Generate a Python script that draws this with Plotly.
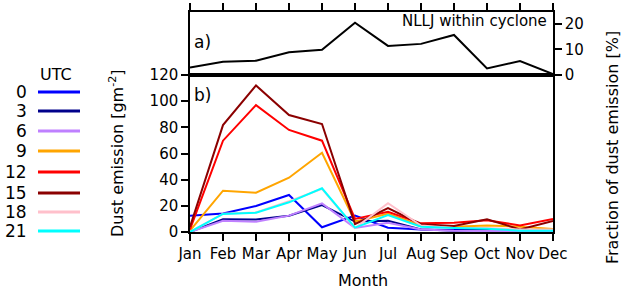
import plotly.graph_objects as go

months = ["Jan", "Feb", "Mar", "Apr", "May", "Jun", "Jul", "Aug", "Sep", "Oct", "Nov", "Dec"]
utc_labels = ["0", "3", "6", "9", "12", "15", "18", "21"]
utc_colors = ["#0000ff", "#00008b", "#bf80ff", "#ffa500", "#ff0000", "#8b0000", "#ffc0cb", "#00ffff"]

utc0 = [12.5, 14.2, 19.9, 28.3, 3.6, 12.5, 3.3, 2.0, 1.5, 1.5, 1.0, 1.0]
utc3 = [0.0, 9.7, 9.5, 12.5, 20.6, 8.0, 8.6, 2.0, 1.0, 2.0, 0.5, 0.5]
utc6 = [0.0, 8.6, 7.9, 12.5, 21.9, 3.0, 7.0, 2.0, 1.0, 1.0, 0.5, 0.5]
utc9 = [1.0, 31.6, 30.0, 41.5, 60.6, 8.0, 14.0, 5.0, 4.0, 5.0, 4.0, 2.3]
utc12 = [2.0, 69.8, 97.0, 78.0, 69.8, 10.0, 15.5, 6.6, 7.0, 9.0, 5.0, 10.0]
utc15 = [4.0, 81.7, 112.0, 89.4, 82.5, 6.0, 18.3, 6.0, 4.6, 9.7, 2.0, 8.4]
utc18 = [0.0, 14.0, 15.0, 23.5, 33.0, 3.0, 22.0, 5.0, 3.0, 3.0, 2.0, 2.0]
utc21 = [0.0, 13.8, 14.8, 22.7, 33.4, 3.3, 13.0, 4.0, 3.0, 2.5, 1.0, 1.0]
series = [utc0, utc3, utc6, utc9, utc12, utc15, utc18, utc21]

nllj_fraction = [2.9, 5.2, 5.6, 8.9, 9.9, 20.5, 11.4, 12.2, 15.7, 2.6, 5.5, 0.4]

W, H = 623, 293
L, R, T, B = 190, 553, 12, 232
MID = 75

def px(x):
    return (x - L) / (R - L)
def py(y):
    return (B - y) / (B - T)

FONT = "DejaVu Sans"
fig = go.Figure()

for lab, col, vals in zip(utc_labels, utc_colors, series):
    fig.add_trace(go.Scatter(x=list(range(12)), y=vals, mode="lines", line=dict(color=col, width=2),
                             showlegend=False, xaxis="x", yaxis="y", name=lab))

fig.add_trace(go.Scatter(x=list(range(12)), y=nllj_fraction, mode="lines", line=dict(color="black", width=2),
                         showlegend=False, xaxis="x2", yaxis="y2"))

axis_common = dict(showline=True, linecolor="black", linewidth=1.5, mirror=True,
                   ticks="outside", ticklen=7, tickwidth=1.5, tickcolor="black",
                   showgrid=False, zeroline=False, automargin=False,
                   tickfont=dict(family=FONT, size=15, color="black"))

split = (B - MID) / (B - T)

fig.update_layout(
    width=W, height=H,
    margin=dict(l=L, r=W - R, t=T, b=H - B, pad=0),
    paper_bgcolor="white", plot_bgcolor="white",
    font=dict(family=FONT, size=15, color="black"),
    xaxis=dict(domain=[0, 1], anchor="y", range=[0, 11], tickvals=list(range(12)), ticktext=months,
               **axis_common),
    yaxis=dict(domain=[0, split], anchor="x", range=[0, 120], dtick=20, **axis_common),
    xaxis2=dict(domain=[0, 1], anchor="y2", range=[0, 11], side="top", showticklabels=False,
                tickvals=list(range(12)), **axis_common),
    yaxis2=dict(domain=[split, 1], anchor="x2", range=[0, 24.7], side="right",
                tickvals=[0, 10, 20], **axis_common),
)

ann = []
ann.append(dict(x=px(549), y=py(21), xref="paper", yref="paper", text="NLLJ within cyclone",
                showarrow=False, xanchor="right", yanchor="middle", font=dict(family=FONT, size=15)))
ann.append(dict(x=px(192), y=py(42), xref="paper", yref="paper", text="a)",
                showarrow=False, xanchor="left", yanchor="middle", font=dict(family=FONT, size=17)))
ann.append(dict(x=px(192), y=py(95), xref="paper", yref="paper", text="b)",
                showarrow=False, xanchor="left", yanchor="middle", font=dict(family=FONT, size=17)))
ann.append(dict(x=px(116), y=py(153), xref="paper", yref="paper", text="Dust emission [gm<sup>-2</sup>]",
                showarrow=False, textangle=-90, xanchor="center", yanchor="middle", font=dict(family=FONT, size=16)))
ann.append(dict(x=px(612), y=py(148), xref="paper", yref="paper", text="Fraction of dust emission [%]",
                showarrow=False, textangle=-90, xanchor="center", yanchor="middle", font=dict(family=FONT, size=16)))
ann.append(dict(x=px(363), y=py(280), xref="paper", yref="paper", text="Month",
                showarrow=False, xanchor="center", yanchor="middle", font=dict(family=FONT, size=16)))
ann.append(dict(x=px(56), y=py(74), xref="paper", yref="paper", text="UTC",
                showarrow=False, xanchor="center", yanchor="middle", font=dict(family=FONT, size=16)))

shapes = []
rows_y = [92, 111, 131, 151, 172, 193, 212, 231]
for lab, col, yy in zip(utc_labels, utc_colors, rows_y):
    ann.append(dict(x=px(29), y=py(yy), xref="paper", yref="paper", text=lab, showarrow=False,
                    xanchor="right", yanchor="middle", font=dict(family=FONT, size=17)))
    shapes.append(dict(type="line", xref="paper", yref="paper", x0=px(38), x1=px(80),
                       y0=py(yy), y1=py(yy), line=dict(color=col, width=3)))

fig.update_layout(annotations=ann, shapes=shapes)
fig.write_html("out.html", config={"displayModeBar": False},
               post_script="document.body.style.margin='0px';")
